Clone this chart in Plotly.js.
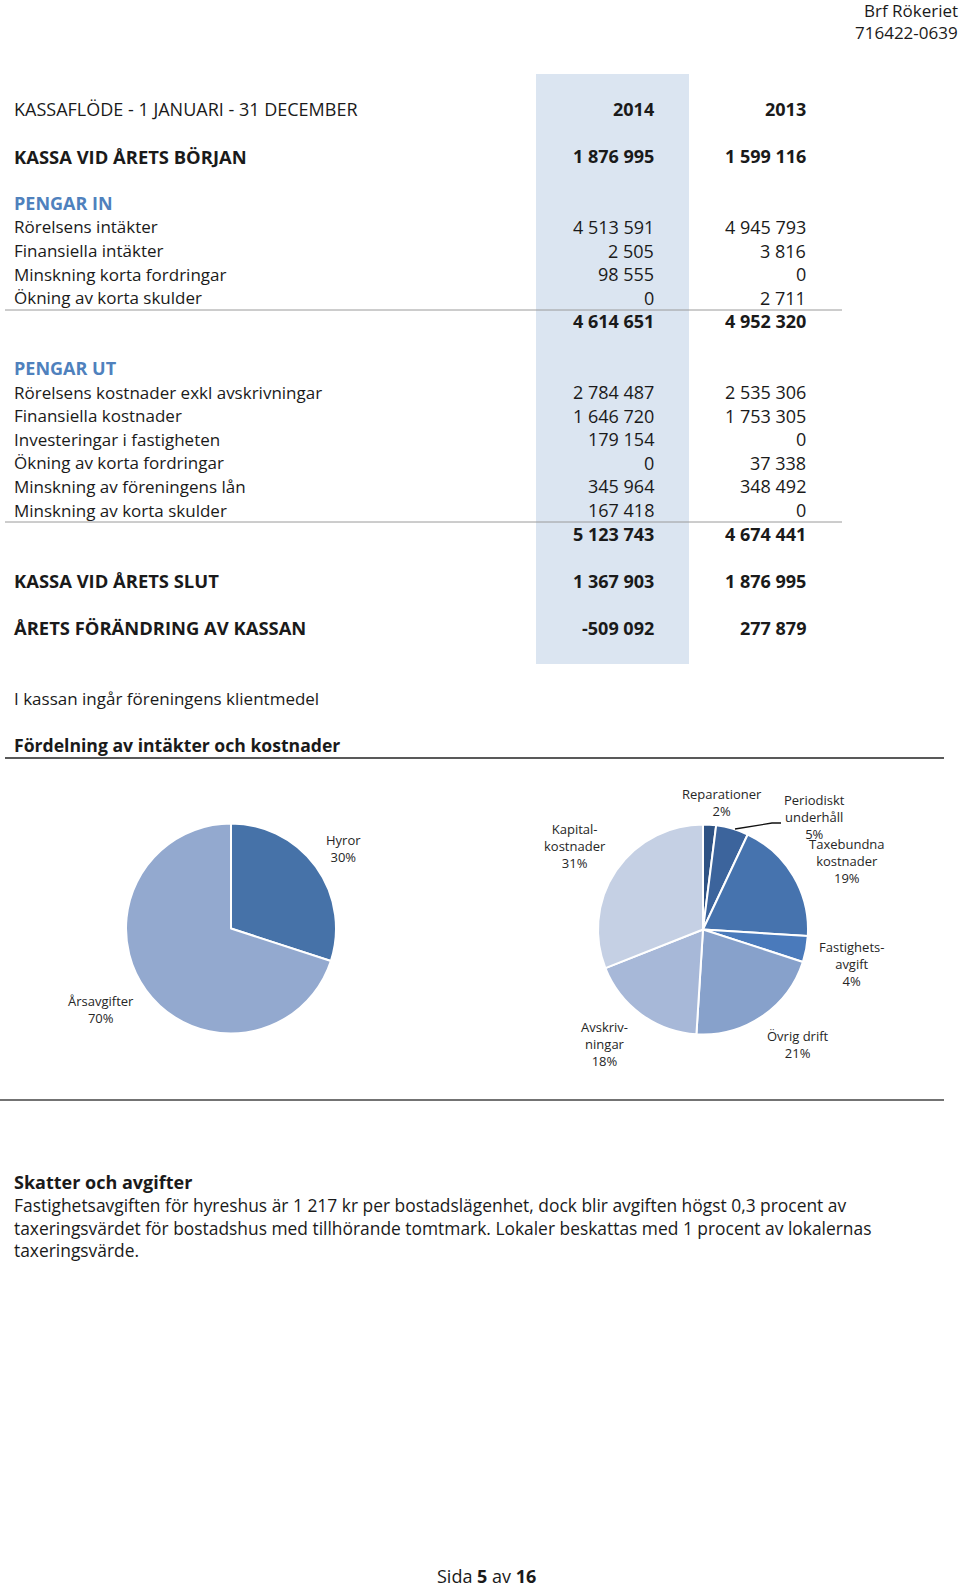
<!DOCTYPE html>
<html><head><meta charset="utf-8">
<script src="https://cdn.plot.ly/plotly-3.0.1.min.js"></script>
<style>html,body{margin:0;padding:0;background:#fff}#chart{width:960px;height:1587px}</style>
</head><body><div id="chart"></div><script>
// ---------- DATA ----------
const companyName = "Brf Rökeriet";
const orgNumber = "716422-0639";
const tableTitle = "KASSAFLÖDE - 1 JANUARI - 31 DECEMBER";
const years = ["2014", "2013"];
const openingLabel = "KASSA VID ÅRETS BÖRJAN";
const opening = [1876995, 1599116];
const inHeading = "PENGAR IN";
const inLabels = ["Rörelsens intäkter", "Finansiella intäkter", "Minskning korta fordringar", "Ökning av korta skulder"];
const in2014 = [4513591, 2505, 98555, 0];
const in2013 = [4945793, 3816, 0, 2711];
const inTotals = [4614651, 4952320];
const outHeading = "PENGAR UT";
const outLabels = ["Rörelsens kostnader exkl avskrivningar", "Finansiella kostnader", "Investeringar i fastigheten", "Ökning av korta fordringar", "Minskning av föreningens lån", "Minskning av korta skulder"];
const out2014 = [2784487, 1646720, 179154, 0, 345964, 167418];
const out2013 = [2535306, 1753305, 0, 37338, 348492, 0];
const outTotals = [5123743, 4674441];
const closingLabel = "KASSA VID ÅRETS SLUT";
const closing = [1367903, 1876995];
const changeLabel = "ÅRETS FÖRÄNDRING AV KASSAN";
const change = [-509092, 277879];
const noteText = "I kassan ingår föreningens klientmedel";
const chartHeading = "Fördelning av intäkter och kostnader";
const incomeLabels = ["Hyror", "Årsavgifter"];
const incomeValues = [30, 70];
const costLabels = ["Reparationer", "Periodiskt underhåll", "Taxebundna kostnader", "Fastighetsavgift", "Övrig drift", "Avskrivningar", "Kapitalkostnader"];
const costLabelText = ["Reparationer", "Periodiskt<br>underhåll", "Taxebundna<br>kostnader", "Fastighets-<br>avgift", "Övrig drift", "Avskriv-<br>ningar", "Kapital-<br>kostnader"];
const costValues = [2, 5, 19, 4, 21, 18, 31];
const taxHeading = "Skatter och avgifter";
const taxLines = [
  "Fastighetsavgiften för hyreshus är 1 217 kr per bostadslägenhet, dock blir avgiften högst 0,3 procent av",
  "taxeringsvärdet för bostadshus med tillhörande tomtmark. Lokaler beskattas med 1 procent av lokalernas",
  "taxeringsvärde."
];
const footerText = "Sida <b>5</b> av <b>16</b>";

// ---------- STYLE / LAYOUT ----------
const W = 960, H = 1587;
const X = px => px / W;
const Y = py => 1 - py / H;
const FONT = "Open Sans, Noto Sans, sans-serif";
const TXT = "#1a1a1a";
const BLUE = "#4f81bd";
const fmt = n => {
  const s = Math.abs(n).toString().replace(/\B(?=(\d{3})+(?!\d))/g, " ");
  return (n < 0 ? "-" : "") + s;
};

const annotations = [];
function txt(x, y, text, opts) {
  opts = opts || {};
  const anchor = opts.anchor || "left";
  annotations.push({
    xref: "paper", yref: "paper", x: X(x), y: Y(y), text: text, showarrow: false,
    xanchor: anchor, yanchor: "middle", align: anchor === "right" ? "right" : (anchor === "center" ? "center" : "left"),
    font: {family: FONT, size: opts.size || 17, color: opts.color || TXT, weight: opts.bold ? 700 : 400}
  });
}

// header
txt(960, 10, companyName, {anchor: "right", size: 17});
txt(960, 32, orgNumber, {anchor: "right", size: 17});

// table rows
const rowY = i => 109 + i * 23.59;
const LX = 12, C1 = 656, C2 = 808;
const LABEL_SIZE = 17, NUM_SIZE = 18, BOLD_SIZE = 18.4;
txt(LX, rowY(0), tableTitle, {size: 18});
txt(C1, rowY(0), years[0], {anchor: "right", bold: true, size: NUM_SIZE});
txt(C2, rowY(0), years[1], {anchor: "right", bold: true, size: NUM_SIZE});

function row(i, label, a, b, style) {
  const bold = style === "bold";
  const head = style === "head";
  if (label) txt(LX, rowY(i), label, {bold: bold || head, color: head ? BLUE : TXT, size: bold ? BOLD_SIZE : (head ? 18 : LABEL_SIZE)});
  if (a !== null && a !== undefined) txt(C1, rowY(i), fmt(a), {anchor: "right", bold: bold, size: NUM_SIZE});
  if (b !== null && b !== undefined) txt(C2, rowY(i), fmt(b), {anchor: "right", bold: bold, size: NUM_SIZE});
}
row(2, openingLabel, opening[0], opening[1], "bold");
row(4, inHeading, null, null, "head");
inLabels.forEach((l, k) => row(5 + k, l, in2014[k], in2013[k], "normal"));
row(9, "", inTotals[0], inTotals[1], "bold");
row(11, outHeading, null, null, "head");
outLabels.forEach((l, k) => row(12 + k, l, out2014[k], out2013[k], "normal"));
row(18, "", outTotals[0], outTotals[1], "bold");
row(20, closingLabel, closing[0], closing[1], "bold");
row(22, changeLabel, change[0], change[1], "bold");

txt(LX, 698, noteText, {size: 17});
txt(LX, 745, chartHeading, {bold: true, size: 17.6});

// pie labels
const pieFont = 13;
const incomeTotal = incomeValues.reduce((a, b) => a + b, 0);
const costTotal = costValues.reduce((a, b) => a + b, 0);
const pct = (v, t) => Math.round(v / t * 100) + "%";
const incomePos = [[343, 848.5], [101, 1009]];
incomeLabels.forEach((l, k) => txt(incomePos[k][0], incomePos[k][1], l + "<br>" + pct(incomeValues[k], incomeTotal), {anchor: "center", size: pieFont, color: "#262626"}));
const costPos = [[722, 802.5], [814, 817], [847, 861], [851, 964], [798, 1044.5], [604, 1044], [575, 845.5]];
costLabelText.forEach((l, k) => txt(costPos[k][0], costPos[k][1], l + "<br>" + pct(costValues[k], costTotal), {anchor: "center", size: pieFont, color: "#262626"}));

// tax text
txt(LX, 1182, taxHeading, {bold: true, size: 18});
taxLines.forEach((l, k) => txt(LX, 1205 + k * 22.5, l, {size: 17.4}));

// footer
txt(486, 1576, footerText, {anchor: "center", size: 18});

// shapes
const shapes = [
  {type: "rect", xref: "paper", yref: "paper", x0: X(536), x1: X(689), y0: Y(74), y1: Y(664), fillcolor: "#dbe5f1", line: {width: 0}, layer: "below"},
  {type: "line", xref: "paper", yref: "paper", x0: X(5), x1: X(842), y0: Y(310), y1: Y(310), line: {color: "#9a9a9a", width: 1}},
  {type: "line", xref: "paper", yref: "paper", x0: X(5), x1: X(842), y0: Y(522), y1: Y(522), line: {color: "#9a9a9a", width: 1}},
  {type: "line", xref: "paper", yref: "paper", x0: X(5), x1: X(944), y0: Y(758), y1: Y(758), line: {color: "#222", width: 1.5}},
  {type: "line", xref: "paper", yref: "paper", x0: X(0), x1: X(944), y0: Y(1100), y1: Y(1100), line: {color: "#444", width: 1.5}},
  {type: "path", xref: "paper", yref: "paper",
   path: "M " + X(735) + " " + Y(829) + " L " + X(772) + " " + Y(823) + " L " + X(781) + " " + Y(823),
   line: {color: "#111", width: 1.3}}
];

function pieDomain(cx, cy, r) {
  return {x: [X(cx - r), X(cx + r)], y: [Y(cy + r), Y(cy - r)]};
}

const data = [
  {type: "pie", labels: incomeLabels, values: incomeValues, sort: false, direction: "clockwise", rotation: 0,
   textinfo: "none", hoverinfo: "skip", domain: pieDomain(231, 928.5, 105),
   marker: {colors: ["#4672a8", "#93a9cf"], line: {color: "#ffffff", width: 2}}},
  {type: "pie", labels: costLabels, values: costValues, sort: false, direction: "clockwise", rotation: 0,
   textinfo: "none", hoverinfo: "skip", domain: pieDomain(703, 929.5, 105),
   marker: {colors: ["#2e5284", "#3c649c", "#4673ae", "#4a7abb", "#87a1cb", "#a7b8d8", "#c5d0e4"], line: {color: "#ffffff", width: 2}}}
];

const layout = {
  width: W, height: H, margin: {l: 0, r: 0, t: 0, b: 0},
  paper_bgcolor: "#ffffff", plot_bgcolor: "#ffffff", showlegend: false,
  font: {family: FONT, color: TXT},
  shapes: shapes, annotations: annotations
};
Plotly.newPlot("chart", data, layout, {staticPlot: true, displayModeBar: false});
</script></body></html>
